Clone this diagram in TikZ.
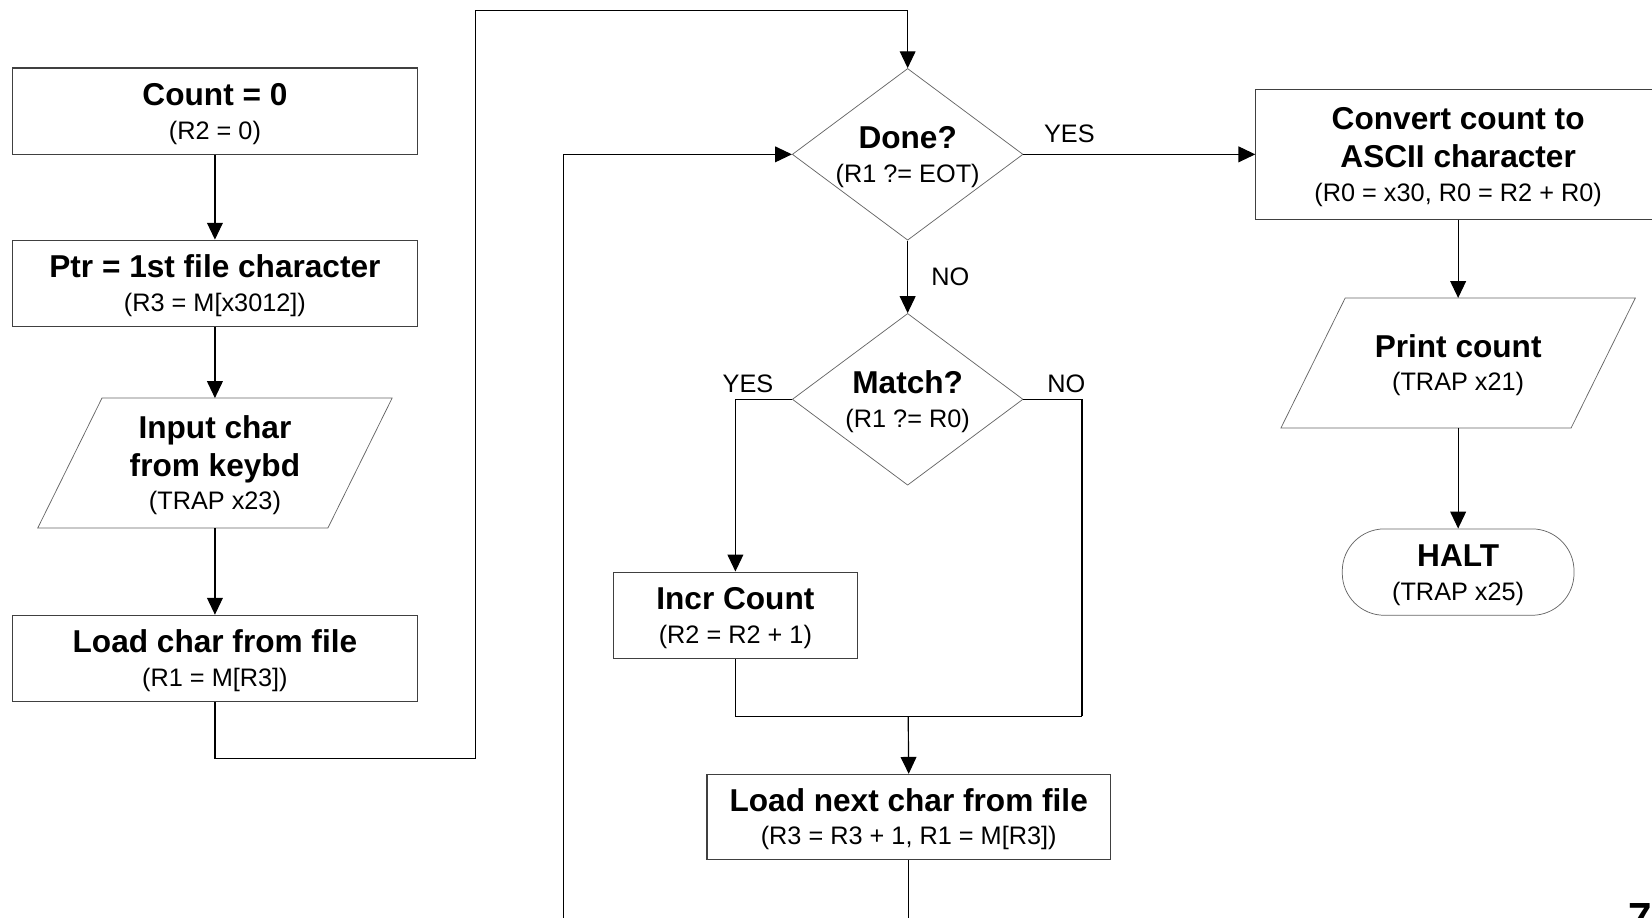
\documentclass[tikz,border=0pt]{standalone}
\usepackage{fontspec}
\setmainfont{Liberation Sans}
\usetikzlibrary{arrows.meta,shapes.geometric}
\newcommand\btl[1]{{\fontsize{30}{36}\selectfont\bfseries\rule{0pt}{26pt}#1}}
\begin{document}
\begin{tikzpicture}[x=1pt,y=-1pt,
  every node/.style={inner sep=0pt, font=\fontsize{24}{36}\selectfont},
  procbox/.style={draw=black!75, line width=1.1pt, rectangle, minimum width=384, minimum height=82, align=center},
  iobox/.style={rectangle, minimum width=275, minimum height=123, align=center},
  decbox/.style={draw=black!60, line width=0.7pt, diamond, minimum width=219, minimum height=163},
  termbox/.style={draw=black!60, line width=0.7pt, rectangle, rounded corners=40pt, minimum width=220, minimum height=82, align=center},
  shapeline/.style={draw=black!60, line width=0.7pt},
  conn/.style={draw=black, line width=1.1pt},
  arr/.style={conn, -{Triangle[length=16pt,width=15pt]}},
  lbl/.style={font=\fontsize{24}{28}\selectfont}
]
\useasboundingbox (0,0) rectangle (1568,870.4);

% left column
\node[procbox] (count) at (204,105.5) {\btl{Count = 0}\\[-4pt](R2 = 0)};
\node[procbox] (ptr) at (204,269) {\btl{Ptr = 1st file character}\\[-4pt](R3 = M[x3012])};
\node[iobox] (input) at (204,439.5) {\btl{Input char}\\\btl{from keybd}\\[-4pt](TRAP x23)};
\draw[shapeline] ([xshift=30.5pt]input.north west) -- ([xshift=30.5pt]input.north east)
  -- ([xshift=-30.5pt]input.south east) -- ([xshift=-30.5pt]input.south west) -- cycle;
\node[procbox] (load) at (204,625) {\btl{Load char from file}\\[-4pt](R1 = M[R3])};

% middle column
\node[decbox, label={[align=center, font=\fontsize{24}{36}\selectfont]center:{\btl{Done?}\\[-4pt](R1 ?= EOT)}}] (done) at (861.5,146.5) {};
\node[decbox, label={[align=center, font=\fontsize{24}{36}\selectfont]center:{\btl{Match?}\\[-4pt](R1 ?= R0)}}] (match) at (861.5,379) {};
\node[procbox, minimum width=232] (incr) at (698,584) {\btl{Incr Count}\\[-4pt](R2 = R2 + 1)};
\node[procbox, minimum width=383, minimum height=81] (next) at (862.5,775.5) {\btl{Load next char from file}\\[-4pt](R3 = R3 + 1, R1 = M[R3])};

% right column
\node[procbox, minimum height=123] (conv) at (1384,146.5) {\btl{Convert count to}\\\btl{ASCII character}\\[-4pt](R0 = x30, R0 = R2 + R0)};
\node[iobox] (print) at (1384,344.5) {\btl{Print count}\\[-4pt](TRAP x21)};
\draw[shapeline] ([xshift=30.5pt]print.north west) -- ([xshift=30.5pt]print.north east)
  -- ([xshift=-30.5pt]print.south east) -- ([xshift=-30.5pt]print.south west) -- cycle;
\node[termbox] (halt) at (1384,543) {\btl{HALT}\\[-4pt](TRAP x25)};

% labels
\node[lbl] (yes1) at (1015,127) {YES};
\node[lbl] (no1) at (902,263) {NO};
\node[lbl] (yes2) at (710,364) {YES};
\node[lbl] (no2) at (1012,364) {NO};

% page number (cut off at the page edge, as in the reference)
\node[anchor=north west, font=\fontsize{40}{40}\selectfont\bfseries] (pg) at (1545,857) {7};

% coordinates for routing
\coordinate (p1) at (451,720);
\coordinate (p2) at (451,10);
\coordinate (q1) at (535,890);
\coordinate (j2) at (1027,680);
\coordinate (j) at (862,680);

% connectors
\draw[arr] (count.south) -- (ptr.north);
\draw[arr] (ptr.south) -- (input.north);
\draw[arr] (input.south) -- (load.north);
\draw[arr] (load.south) |- (p1) -- (p2) -| (done.north);
\draw[arr] (done.east) -- (conv.west);
\draw[arr] (done.south) -- (match.north);
\draw[arr] (match.west) -| (incr.north);
\draw[conn] (match.east) -| (j2);
\draw[conn] (incr.south) |- (j2);
\draw[arr] (j) -- (next.north);
\draw[arr] (next.south) |- (q1) |- (done.west);
\draw[arr] (conv.south) -- (print.north);
\draw[arr] (print.south) -- (halt.north);
\end{tikzpicture}
\end{document}
